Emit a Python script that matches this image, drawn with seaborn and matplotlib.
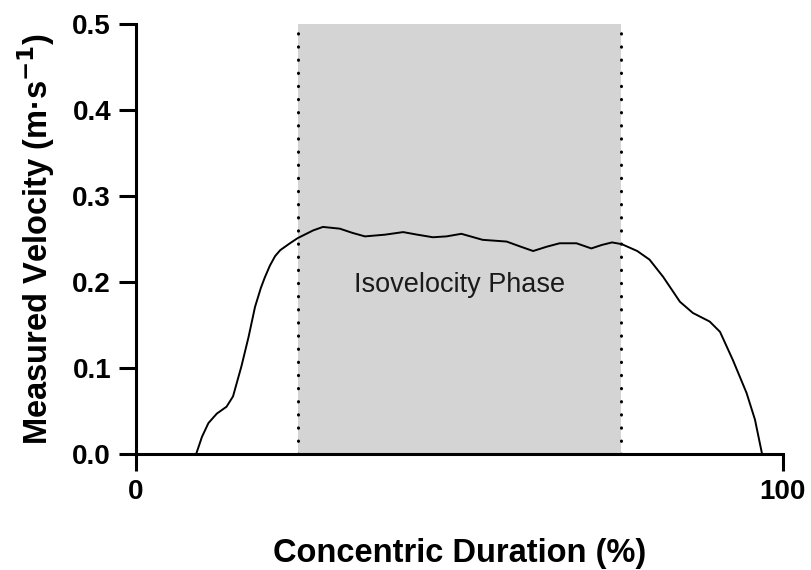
import matplotlib
matplotlib.use("Agg")
import matplotlib.pyplot as plt
import seaborn as sns
import pandas as pd

duration = [9.3, 10.2, 11.2, 12.5, 14.0, 15.0, 16.3, 17.4, 18.4, 19.3, 19.9, 20.7, 21.5, 22.3, 23.8, 25.0,
            27.4, 28.9, 31.5, 33.5, 35.4, 38.5, 41.3, 43.5, 45.9, 48.0, 50.3, 53.6,
            57.3, 59.5, 61.4, 63.5, 65.5, 68.1, 70.4, 72.0, 73.6, 75.1, 77.5, 79.4,
            81.5, 84.1, 86.1, 88.7, 90.3, 92.3, 94.4, 95.7, 96.8]
velocity = [0.0, 0.020, 0.036, 0.047, 0.055, 0.067, 0.102, 0.136, 0.171, 0.193, 0.205, 0.219, 0.230, 0.237, 0.245,
            0.251, 0.260, 0.264, 0.262, 0.257, 0.253, 0.255, 0.258, 0.255, 0.252, 0.253,
            0.256, 0.249, 0.247, 0.241, 0.236, 0.241, 0.245, 0.245, 0.239, 0.243, 0.246,
            0.244, 0.236, 0.226, 0.206, 0.177, 0.164, 0.154, 0.142, 0.109, 0.071, 0.040, 0.0]
phase_start, phase_end = 25, 75
x_ticks = [0, 100]
y_ticks = [0.0, 0.1, 0.2, 0.3, 0.4, 0.5]

sns.set_style("ticks")
plt.rcParams['font.family'] = ['Liberation Sans', 'DejaVu Sans']
plt.rcParams.update({'text.color': 'black', 'axes.labelcolor': 'black',
                     'xtick.color': 'black', 'ytick.color': 'black',
                     'axes.edgecolor': 'black'})

fig = plt.figure(figsize=(8.12, 5.70), dpi=100)
ax = fig.add_axes([0.1675, 0.2035, 0.7965, 0.7545])

ax.axvspan(phase_start, phase_end, color='#d4d4d4', lw=0, zorder=0)
for xv in (phase_start, phase_end):
    ax.plot([xv, xv], [0, 0.5], color='black', lw=2.2,
            linestyle=(0, (0.1, 4.2)), dash_capstyle='round', zorder=2)

df = pd.DataFrame({"duration": duration, "velocity": velocity})
sns.lineplot(data=df, x="duration", y="velocity", ax=ax, color='black', lw=1.4, zorder=3)
for ln in ax.lines:
    ln.set_solid_joinstyle('round')

ax.text(50, 0.197, "Isovelocity Phase", ha='center', va='center', fontsize=19.5, color='#1a1a1a')

ax.set_xlim(0, 100)
ax.set_ylim(0, 0.5)
ax.set_xticks(x_ticks)
ax.set_xticklabels([str(v) for v in x_ticks])
ax.set_yticks(y_ticks)
ax.set_yticklabels([f"{v:.1f}" for v in y_ticks])
ax.margins(0)
sns.despine(ax=ax)
for s in ('left', 'bottom'):
    ax.spines[s].set_linewidth(2.2)
    ax.spines[s].set_color('black')
ax.tick_params(axis='both', width=2.2, length=12, labelsize=20, pad=6, colors='black')
for lbl in ax.get_xticklabels() + ax.get_yticklabels():
    lbl.set_fontweight('bold')

ax.set_xlabel("Concentric Duration (%)", fontsize=23.5, fontweight='bold', labelpad=24)
ax.set_ylabel("Measured Velocity (m·s$^{\\mathbf{-1}}$)", fontsize=23.5, fontweight='bold', labelpad=11)

fig.savefig("out.png", dpi=100)
